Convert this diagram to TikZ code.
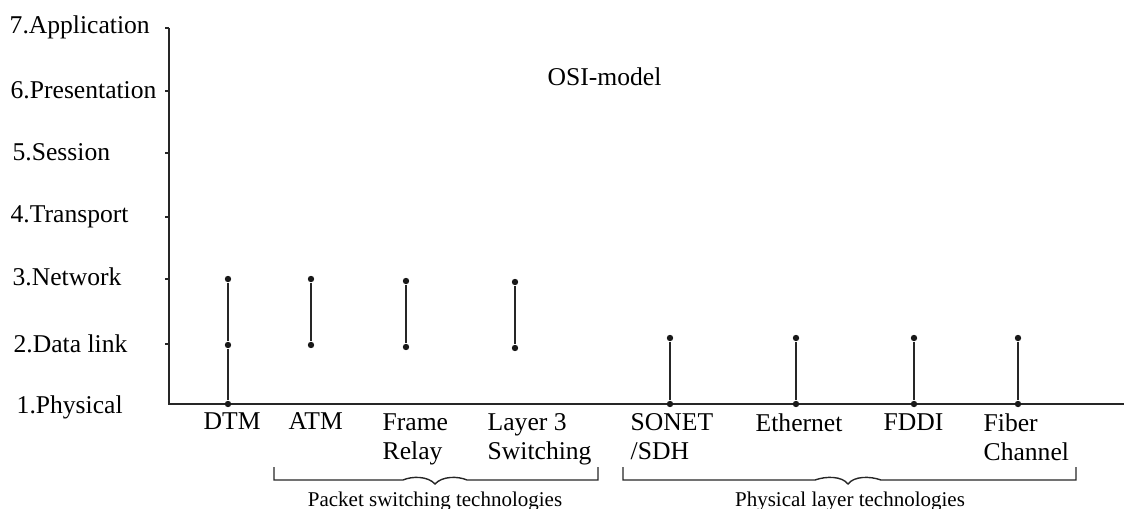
\documentclass[tikz,border=0pt]{standalone}
\usepackage{fontspec}
\setmainfont{Liberation Serif}
\begin{document}
\begin{tikzpicture}[x=0.5pt,y=-0.5pt,line width=0.7pt,
  ink/.style={draw=black!85},
  dot/.style={circle,fill=black!90,draw=none,inner sep=0pt,minimum size=3.2pt},
  lbl/.style={font=\fontsize{12.8}{14.5}\selectfont,inner sep=0pt},
  tech/.style={lbl,anchor=north west,align=left},
  small/.style={font=\fontsize{10.5}{12}\selectfont,inner sep=0pt,anchor=base}]
\useasboundingbox (0,0) rectangle (1126,509);
% axes
\coordinate (top) at (169,28);
\coordinate (org) at (169,404);
\coordinate (right) at (1124,404);
\draw[ink] (top) -- (org) -- (right);
\foreach \y in {28,91,153,217,279,344} \draw[ink] (165,\y) -- (169,\y);
% layer labels
\node[lbl,anchor=base west] (l7) at (9,33) {7.Application};
\node[lbl,anchor=base west] (l6) at (10,98) {6.Presentation};
\node[lbl,anchor=base west] (l5) at (12,160) {5.Session};
\node[lbl,anchor=base west] (l4) at (10,222) {4.Transport};
\node[lbl,anchor=base west] (l3) at (12,285) {3.Network};
\node[lbl,anchor=base west] (l2) at (13,352) {2.Data link};
\node[lbl,anchor=base west] (l1) at (16,413) {1.Physical};
\node[lbl,anchor=base west] (osi) at (547,85) {OSI-model};
% dots
\node[dot] (dtmA) at (228,279) {};
\node[dot] (dtmB) at (228,345) {};
\node[dot] (dtmC) at (228,404) {};
\node[dot] (atmA) at (311,279) {};
\node[dot] (atmB) at (311,345) {};
\node[dot] (frA) at (406,281) {};
\node[dot] (frB) at (406,347) {};
\node[dot] (lsA) at (515,282) {};
\node[dot] (lsB) at (515,348) {};
\node[dot] (soA) at (670,338) {};
\node[dot] (soB) at (670,404) {};
\node[dot] (etA) at (796,338) {};
\node[dot] (etB) at (796,404) {};
\node[dot] (fdA) at (914,338) {};
\node[dot] (fdB) at (914,404) {};
\node[dot] (fcA) at (1018,338) {};
\node[dot] (fcB) at (1018,404) {};
\draw[ink] (dtmA) -- (dtmB) -- (dtmC);
\draw[ink] (atmA) -- (atmB);
\draw[ink] (frA) -- (frB);
\draw[ink] (lsA) -- (lsB);
\draw[ink] (soA) -- (soB);
\draw[ink] (etA) -- (etB);
\draw[ink] (fdA) -- (fdB);
\draw[ink] (fcA) -- (fcB);
% technology labels
\node[tech] (tdtm) at (203,412) {DTM};
\node[tech] (tatm) at (288,412) {ATM};
\node[tech] (tfr) at (382,413) {Frame\\Relay};
\node[tech] (tls) at (487,413) {Layer 3\\Switching};
\node[tech] (tso) at (630,413) {SONET\\/SDH};
\node[tech] (tet) at (755,413) {Ethernet};
\node[tech] (tfd) at (883,413) {FDDI};
\node[tech] (tfc) at (983,413) {Fiber\\Channel};
% brackets
\draw[ink] (274,467) |- (403,480) .. controls (412,476) and (428,476) .. (435,484)
  .. controls (442,476) and (458,476) .. (467,480) -| (598,467);
\draw[ink] (623,467) |- (815,480) .. controls (826,476) and (842,476) .. (848,484)
  .. controls (854,476) and (870,476) .. (881,480) -| (1076,467);
\node[small] (pst) at (435,506) {Packet switching technologies};
\node[small] (plt) at (850,506) {Physical layer technologies};
\end{tikzpicture}
\end{document}
